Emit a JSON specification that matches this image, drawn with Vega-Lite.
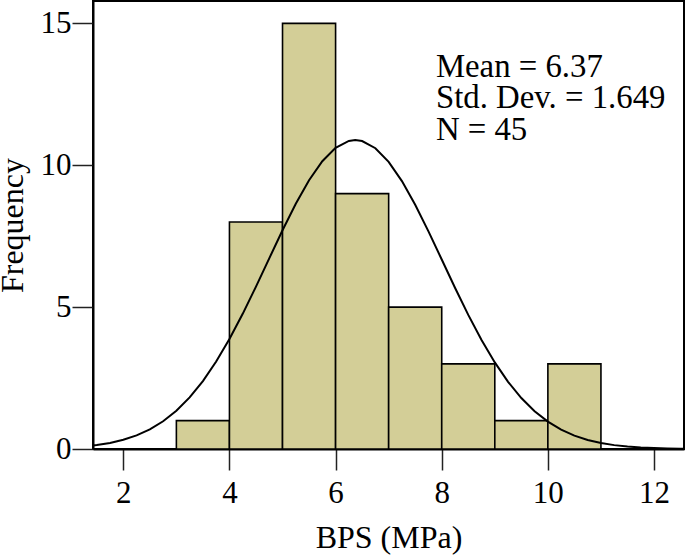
{
  "$schema": "https://vega.github.io/schema/vega-lite/v6.json",
  "width": 591,
  "height": 448,
  "autosize": {"type": "none"},
  "padding": {"left": 93, "top": 1, "right": 1, "bottom": 107},
  "background": "white",
  "config": {
    "font": "Liberation Serif",
    "view": {"stroke": "black", "strokeWidth": 2},
    "text": {"align": "left", "baseline": "alphabetic", "fontSize": 32.8, "font": "Liberation Serif", "color": "black"},
    "axis": {
      "domainColor": "black",
      "domainWidth": 2,
      "tickColor": "#222",
      "tickWidth": 1.5,
      "tickSize": 21,
      "grid": false,
      "labelColor": "black",
      "labelFont": "Liberation Serif",
      "labelFontSize": 31,
      "titleColor": "black",
      "titleFont": "Liberation Serif",
      "titleFontSize": 32,
      "titleFontWeight": "normal"
    }
  },
  "datasets": {
    "bins": [
      {"bin_start": 3, "bin_end": 4, "count": 1},
      {"bin_start": 4, "bin_end": 5, "count": 8},
      {"bin_start": 5, "bin_end": 6, "count": 15},
      {"bin_start": 6, "bin_end": 7, "count": 9},
      {"bin_start": 7, "bin_end": 8, "count": 5},
      {"bin_start": 8, "bin_end": 9, "count": 3},
      {"bin_start": 9, "bin_end": 10, "count": 1},
      {"bin_start": 10, "bin_end": 11, "count": 3}
    ],
    "curve": [
      {"x": 1.43, "f": 0.1226},
      {"x": 1.5, "f": 0.139},
      {"x": 1.75, "f": 0.215},
      {"x": 2.0, "f": 0.325},
      {"x": 2.25, "f": 0.4802},
      {"x": 2.5, "f": 0.6933},
      {"x": 2.75, "f": 0.9782},
      {"x": 3.0, "f": 1.3489},
      {"x": 3.25, "f": 1.8178},
      {"x": 3.5, "f": 2.394},
      {"x": 3.75, "f": 3.0813},
      {"x": 4.0, "f": 3.8758},
      {"x": 4.25, "f": 4.7643},
      {"x": 4.5, "f": 5.7234},
      {"x": 4.75, "f": 6.7194},
      {"x": 5.0, "f": 7.7094},
      {"x": 5.25, "f": 8.6444},
      {"x": 5.5, "f": 9.4725},
      {"x": 5.75, "f": 10.1441},
      {"x": 6.0, "f": 10.6164},
      {"x": 6.25, "f": 10.8583},
      {"x": 6.37, "f": 10.887},
      {"x": 6.5, "f": 10.8532},
      {"x": 6.75, "f": 10.6018},
      {"x": 7.0, "f": 10.1208},
      {"x": 7.25, "f": 9.442},
      {"x": 7.5, "f": 8.6087},
      {"x": 7.75, "f": 7.6706},
      {"x": 8.0, "f": 6.6793},
      {"x": 8.25, "f": 5.6841},
      {"x": 8.5, "f": 4.7272},
      {"x": 8.75, "f": 3.8421},
      {"x": 9.0, "f": 3.0518},
      {"x": 9.25, "f": 2.3689},
      {"x": 9.5, "f": 1.797},
      {"x": 9.75, "f": 1.3322},
      {"x": 10.0, "f": 0.9653},
      {"x": 10.25, "f": 0.6835},
      {"x": 10.5, "f": 0.4729},
      {"x": 10.75, "f": 0.3198},
      {"x": 11.0, "f": 0.2114},
      {"x": 11.25, "f": 0.1365},
      {"x": 11.5, "f": 0.0862},
      {"x": 11.75, "f": 0.0532},
      {"x": 12.0, "f": 0.032},
      {"x": 12.25, "f": 0.0189},
      {"x": 12.5, "f": 0.0109},
      {"x": 12.56, "f": 0.0093}
    ]
  },
  "layer": [
    {
      "data": {"name": "bins"},
      "mark": {"type": "rect", "fill": "#D3CE97", "stroke": "black", "strokeWidth": 1.6},
      "encoding": {
        "x": {
          "field": "bin_start",
          "type": "quantitative",
          "scale": {"domain": [1.429, 12.565], "nice": false, "zero": false},
          "axis": {
            "values": [2, 4, 6, 8, 10, 12],
            "labelBaseline": "alphabetic",
            "labelPadding": 32,
            "title": "BPS (MPa)",
            "titleBaseline": "alphabetic",
            "titleY": 98
          }
        },
        "x2": {"field": "bin_end"},
        "y": {
          "field": "count",
          "type": "quantitative",
          "scale": {"domain": [0, 15.79], "nice": false},
          "axis": {
            "values": [0, 5, 10, 15],
            "labelPadding": 1,
            "title": "Frequency",
            "titleBaseline": "alphabetic",
            "titleX": -71
          }
        },
        "y2": {"datum": 0}
      }
    },
    {
      "data": {"name": "curve"},
      "mark": {"type": "line", "color": "black", "strokeWidth": 2, "clip": true},
      "encoding": {
        "x": {"field": "x", "type": "quantitative"},
        "y": {"field": "f", "type": "quantitative"}
      }
    },
    {
      "data": {"values": [{"label": "Mean = 6.37"}]},
      "mark": {"type": "text"},
      "encoding": {
        "text": {"field": "label"},
        "x": {"datum": 7.89, "type": "quantitative"},
        "y": {"datum": 13.12, "type": "quantitative"}
      }
    },
    {
      "data": {"values": [{"label": "Std. Dev. = 1.649"}]},
      "mark": {"type": "text"},
      "encoding": {
        "text": {"field": "label"},
        "x": {"datum": 7.89, "type": "quantitative"},
        "y": {"datum": 12.02, "type": "quantitative"}
      }
    },
    {
      "data": {"values": [{"label": "N = 45"}]},
      "mark": {"type": "text"},
      "encoding": {
        "text": {"field": "label"},
        "x": {"datum": 7.89, "type": "quantitative"},
        "y": {"datum": 10.89, "type": "quantitative"}
      }
    }
  ]
}
